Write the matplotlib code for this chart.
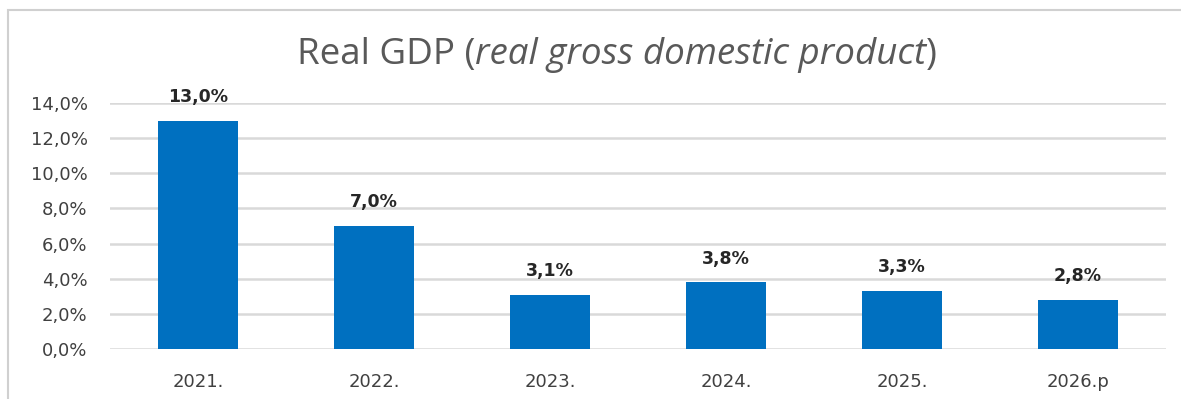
import matplotlib.pyplot as plt
from matplotlib.patches import Rectangle
from matplotlib.ticker import FuncFormatter

years = ["2021.", "2022.", "2023.", "2024.", "2025.", "2026.p"]
gdp = [13.0, 7.0, 3.1, 3.8, 3.3, 2.8]
y_ticks = [0, 2, 4, 6, 8, 10, 12, 14]

fig = plt.figure(figsize=(11.81, 3.99), dpi=100)
ax = fig.add_axes([0.0931, 0.1253, 0.8942, 0.6166])

# ramka wokol wykresu
fig.patches.append(Rectangle((8 / 1181, -0.1), 1.2, 1 - 10 / 399 + 0.1,
                             transform=fig.transFigure, fill=False,
                             edgecolor='#d0d0d0', linewidth=1.5))

x = range(len(years))
ax.bar(x, gdp, width=0.455, color='#0070c0', zorder=3)

for i, v in zip(x, gdp):
    ax.annotate(f"{v:.1f}%".replace('.', ','), (i, v), xytext=(0, 17),
                textcoords='offset points', ha='center', va='center',
                fontsize=12.5, fontweight='bold', color='#262626', family='DejaVu Sans')

ax.set_xlim(-0.5, len(years) - 0.5)
ax.set_ylim(0, 14)
ax.set_yticks(y_ticks)
ax.yaxis.set_major_formatter(FuncFormatter(lambda v, p: f"{v:.1f}%".replace('.', ',')))
ax.set_xticks(list(x))
ax.set_xticklabels(years)
ax.grid(axis='y', color='#d9d9d9', linewidth=1.8, zorder=0)
ax.tick_params(axis='both', length=0, labelsize=13, labelcolor='#404040')
ax.tick_params(axis='x', pad=17)
ax.tick_params(axis='y', pad=16)
for s in ax.spines.values():
    s.set_visible(False)

# tytul: czesc prosta + kursywa, wysrodkowany razem
title_y = 1 - 64 / 399
parts = [("Real GDP (", 'normal'), ("real gross domestic product", 'italic'), (")", 'normal')]
texts = [fig.text(0, title_y, s, fontsize=26.5, color='#595959', family='Open Sans',
                  style=st, ha='left', va='baseline') for s, st in parts]
fig.canvas.draw()
widths = [t.get_window_extent().width for t in texts]
x0 = 617 - sum(widths) / 2
for t, w in zip(texts, widths):
    t.set_x(x0 / fig.bbox.width)
    x0 += w

plt.savefig('out.png', dpi=100)
